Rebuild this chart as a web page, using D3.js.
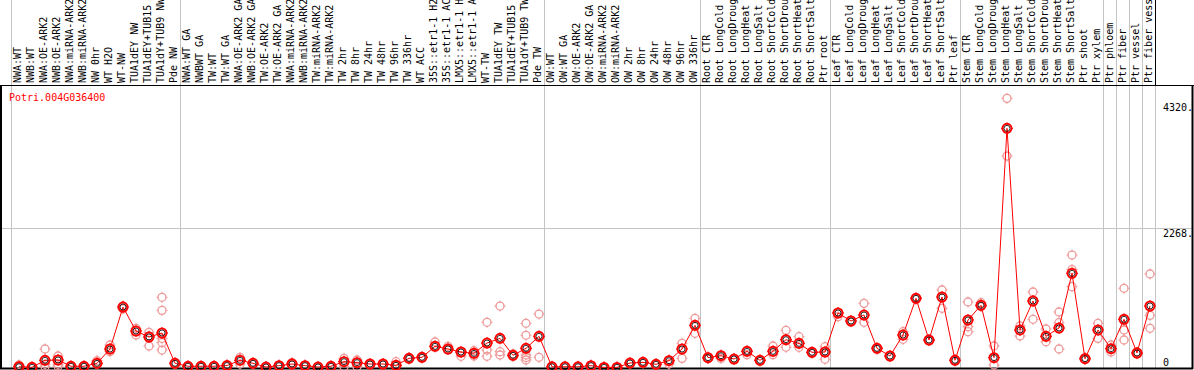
<!DOCTYPE html>
<html>
<head>
<meta charset="utf-8">
<script src="https://cdn.jsdelivr.net/npm/d3@7"></script>
<style>
  html, body { margin: 0; padding: 0; background: #fff; }
  svg { display: block; }
  text { font-family: "DejaVu Sans Mono", "Liberation Mono", monospace; font-size: 10px; }
</style>
</head>
<body>
<div id="container"></div>
<script>
var geneName = "Potri.004G036400";

var samples = [
  "NWA:WT", "NWB:WT", "NWA:OE-ARK2", "NWB:OE-ARK2", "NWA:miRNA-ARK2", "NWB:miRNA-ARK2",
  "NW 0hr", "WT H2O", "WT-NW", "TUA1dEY NW", "TUA1dEY+TUB15 NW", "TUA1dY+TUB9 NW", "Pde NW",
  "NWA:WT GA", "NWBWT GA", "TW:WT", "TW:WT GA", "NWA:OE-ARK2 GA", "NWB:OE-ARK2 GA",
  "TW:OE-ARK2", "TW:OE-ARK2 GA", "NWA:miRNA-ARK2", "NWB:miRNA-ARK2", "TW:miRNA-ARK2", "TW:miRNA-ARK2",
  "TW 2hr", "TW 8hr", "TW 24hr", "TW 48hr", "TW 96hr", "TW 336hr", "WT ACC",
  "35S::etr1-1 H2O", "35S::etr1-1 ACC", "LMX5::etr1-1 H2O", "LMX5::etr1-1 ACC",
  "WT-TW", "TUA1dEY TW", "TUA1dEY+TUB15 TW", "TUA1dY+TUB9 TW", "Pde TW",
  "OW:WT", "OW:WT GA", "OW:OE-ARK2", "OW:OE-ARK2 GA", "OW:miRNA-ARK2", "OW:miRNA-ARK2",
  "OW 2hr", "OW 8hr", "OW 24hr", "OW 48hr", "OW 96hr", "OW 336hr",
  "Root CTR", "Root LongCold", "Root LongDrought", "Root LongHeat", "Root LongSalt",
  "Root ShortCold", "Root ShortDrought", "Root ShortHeat", "Root ShortSalt", "Ptr root",
  "Leaf CTR", "Leaf LongCold", "Leaf LongDrought", "Leaf LongHeat", "Leaf LongSalt",
  "Leaf ShortCold", "Leaf ShortDrought", "Leaf ShortHeat", "Leaf ShortSalt", "Ptr leaf",
  "Stem CTR", "Stem LongCold", "Stem LongDrought", "Stem LongHeat", "Stem LongSalt",
  "Stem ShortCold", "Stem ShortDrought", "Stem ShortHeat", "Stem ShortSalt", "Ptr shoot", "Ptr xylem",
  "Ptr phloem", "Ptr fiber", "Ptr vessel", "Ptr fiber vessel"
];

// column index where each group starts (last = end)
var groupBreaks = [0, 13, 41, 53, 63, 73, 84, 85, 86, 87, 88];

var means = [
  21, 11, 125, 130, 28, 28, 76, 309, 991, 601, 504, 569, 76,
  28, 28, 28, 40, 125, 76, 16, 38, 65, 38, 16, 28, 103, 87, 65, 65, 43, 157, 174,
  352, 309, 260, 238, 406, 482, 206, 320, 515,
  20, 20, 20, 38, 10, 10, 81, 92, 60, 119, 309, 693,
  168, 200, 146, 271, 125, 271, 460, 401, 255, 260,
  894, 764, 861, 320, 195, 536, 1132, 455, 1154, 125,
  780, 1019, 168, 3895, 618, 1089, 515, 650, 1539, 151, 618,
  314, 791, 244, 1008
];

var replicates = [
  [49, 10], [10, 5], [309, 20, 60], [195, 60, 30], [28, 20], [28, 15], [119, 60], [374, 265],
  [1010, 960], [645, 536], [580, 358, 520], [1149, 937, 411, 292, 480], [90, 60],
  [30, 20], [28, 20], [35, 20], [50, 30], [174, 65], [90, 60], [20, 10], [45, 30], [90, 50],
  [45, 30], [20, 10], [35, 20], [157, 20], [130, 20], [70, 50], [75, 55], [103, 30], [170, 150],
  [180, 165], [423, 352], [352, 300], [190, 260], [281, 195], [743, 292, 190], [1007, 265, 211],
  [228, 190], [726, 531, 211, 170, 130], [877, 174],
  [25, 15], [25, 15], [25, 15], [40, 30], [15, 8], [15, 8], [90, 70], [100, 80], [70, 50],
  [65, 130], [401, 157], [807, 564],
  [180, 150], [157, 210], [150, 140], [216, 280], [130, 120], [358, 216], [612, 336], [509, 336],
  [260, 240], [346, 141],
  [834, 900], [770, 750], [1051, 743], [330, 310], [200, 190], [590, 466], [1140, 1120],
  [460, 445], [1268, 970], [140, 120],
  [1073, 672, 590], [1062, 1000], [358, 49], [4383, 3445], [683, 520], [1235, 791], [634, 428],
  [910, 737, 309], [1836, 1322, 1600], [170, 140], [726, 482],
  [374, 260], [1295, 618, 455], [260, 230], [1528, 856, 645]
];

var yTicks = [0, 2268, 4320];
var yTickLabels = ["0", "2268.", "4320."];
var yGrid = [2268];

document.addEventListener('DOMContentLoaded', function(){
  var width = 1194;
  var height = 370;
  var headerH = 85;
  var colW = 13;
  var left = 11;
  var N = samples.length;
  var plotRight = left + colW * N;   // 1155

  var xScale = d3.scaleLinear()
                 .domain([0, N])
                 .range([left, plotRight]);
  var px = function(i){ return xScale(i) + 8; };

  var yScale = d3.scaleLinear()
                 .domain([0, 4600])
                 .range([368, headerH]);

  var SVG = d3.select("#container")
              .append("svg")
              .attr("width", width)
              .attr("height", height);

  SVG.append("rect").attr("width", width).attr("height", height).attr("fill", "#fff");

  // horizontal grid
  SVG.selectAll(".hgrid")
     .data(yGrid)
     .enter()
     .append("line")
     .attr("x1", 0).attr("x2", 1192)
     .attr("y1", (d) => Math.round(yScale(d)) + 0.5)
     .attr("y2", (d) => Math.round(yScale(d)) + 0.5)
     .attr("stroke", "#c4c4c4");

  // group separators
  SVG.selectAll(".vgrid")
     .data(groupBreaks)
     .enter()
     .append("line")
     .attr("x1", (d) => Math.round(xScale(d)) + 0.5)
     .attr("x2", (d) => Math.round(xScale(d)) + 0.5)
     .attr("y1", 0).attr("y2", 368)
     .attr("stroke", "#c4c4c4");

  // frame
  SVG.append("line").attr("x1", 0).attr("x2", width).attr("y1", headerH + 0.5).attr("y2", headerH + 0.5)
     .attr("stroke", "#000");
  SVG.append("line").attr("x1", 0).attr("x2", 1193).attr("y1", 368.5).attr("y2", 368.5)
     .attr("stroke", "#000").attr("stroke-width", 2);
  SVG.append("line").attr("x1", 1).attr("x2", 1).attr("y1", headerH).attr("y2", 369)
     .attr("stroke", "#000").attr("stroke-width", 2);
  SVG.append("line").attr("x1", 1192.5).attr("x2", 1192.5).attr("y1", headerH).attr("y2", 369)
     .attr("stroke", "#000").attr("stroke-width", 2);
  SVG.append("line").attr("x1", plotRight + 0.5).attr("x2", plotRight + 0.5).attr("y1", 0).attr("y2", headerH)
     .attr("stroke", "#000");

  // sample labels
  SVG.selectAll(".samp")
     .data(samples)
     .enter()
     .append("text")
     .attr("transform", (d, i) => "translate(" + (xScale(i) + 10) + "," + 83 + ") rotate(-90)")
     .attr("fill", "#000")
     .text((d) => d);

  // gene name
  SVG.append("text")
     .attr("x", 9).attr("y", 101)
     .attr("fill", "#f00")
     .text(geneName);

  // y labels
  SVG.selectAll(".ylab")
     .data(yTicks)
     .enter()
     .append("text")
     .attr("x", 1163)
     .attr("y", (d) => d === 0 ? yScale(d) - 2 : yScale(d) + 9)
     .attr("fill", "#000")
     .text((d, i) => yTickLabels[i]);

  function marker(g, x, y, col, r, w) {
    g.append("circle").attr("cx", x).attr("cy", y).attr("r", r)
     .attr("fill", "none").attr("stroke", col).attr("stroke-width", w);
    g.append("path")
     .attr("d", "M" + x + "," + (y - r - 1.5) + "v2M" + x + "," + (y + r - 0.5) + "v2" +
                "M" + (x - r - 1.5) + "," + y + "h2M" + (x + r - 0.5) + "," + y + "h2")
     .attr("stroke", col).attr("stroke-width", 1);
  }

  // replicate points
  var repG = SVG.append("g");
  replicates.forEach(function(reps, i){
    reps.forEach(function(v){
      marker(repG, px(i), yScale(v), "#ee9a9a", 4, 1.3);
    });
  });

  // mean line
  var line = d3.line()
               .x((d, i) => px(i))
               .y((d) => yScale(d));
  SVG.append("path")
     .datum(means)
     .attr("d", line)
     .attr("fill", "none")
     .attr("stroke", "#f00")
     .attr("stroke-width", 1);

  // mean points
  var mG = SVG.append("g");
  means.forEach(function(v, i){
    marker(mG, px(i), yScale(v), "#f00", 4.5, 2);
    mG.append("circle").attr("cx", px(i)).attr("cy", yScale(v)).attr("r", 3)
      .attr("fill", "none").attr("stroke", "#000").attr("stroke-width", 0.8);
  });
});
</script>
</body>
</html>
